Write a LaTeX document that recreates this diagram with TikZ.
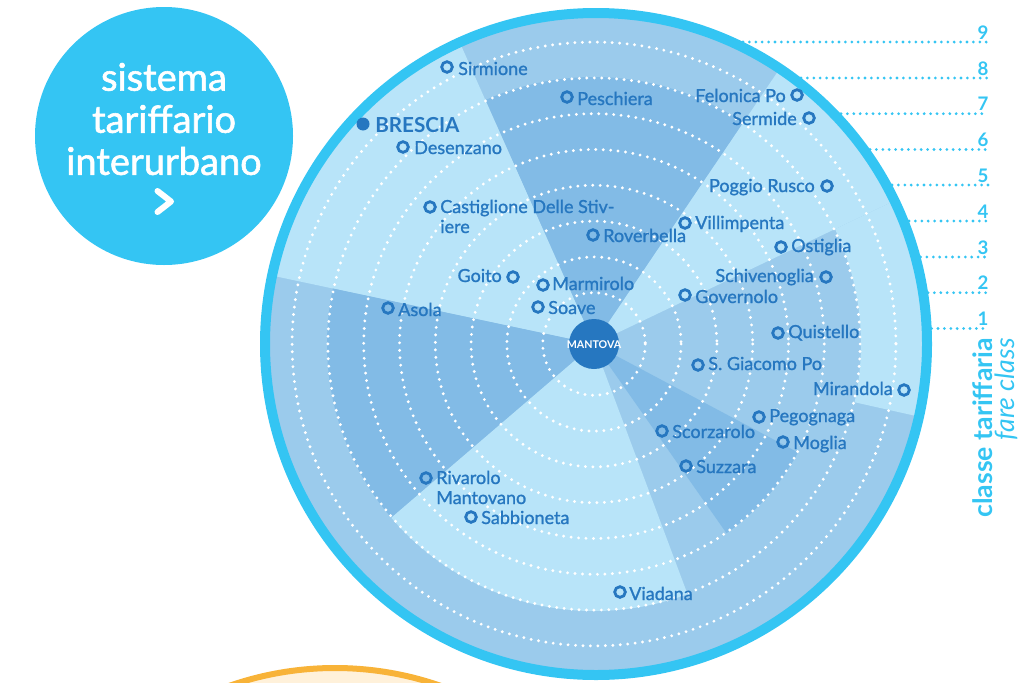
\documentclass[tikz,border=0pt]{standalone}
\usepackage{fontspec}
\setmainfont{Lato}
\newfontfamily\cityfont{Lato}[FakeBold=1.2]
\newfontfamily\titlefont{Lato}[FakeBold=1.5]
\definecolor{lightb}{HTML}{B8E4F9}
\definecolor{medb}{HTML}{9BCBEC}
\definecolor{darkb}{HTML}{82BBE6}
\definecolor{cyanb}{HTML}{34C5F3}
\definecolor{textb}{HTML}{2677C0}
\definecolor{orangeb}{HTML}{F8B338}
\definecolor{creamb}{HTML}{FFF1DA}
\tikzset{
  mk/.style={circle,draw=textb,line width=2.1pt,minimum size=8pt,inner sep=0pt},
  cityR/.style={anchor=base west,inner sep=0pt,text=textb,font=\cityfont\fontsize{13.5}{15}\selectfont},
  cityL/.style={anchor=base east,inner sep=0pt,text=textb,font=\cityfont\fontsize{13.5}{15}\selectfont},
  ring/.style={draw=white,line width=2.4pt,line cap=round,dash pattern=on 0pt off 5.6pt},
  legline/.style={draw=cyanb,line width=2.3pt,line cap=round,dash pattern=on 0pt off 4.8pt},
  num/.style={anchor=south,inner sep=0pt,text=cyanb,font=\bfseries\fontsize{14}{14}\selectfont},
  title/.style={text=white,inner sep=0pt,font=\titlefont\fontsize{28.5}{30}\selectfont}
}
\begin{document}
\begin{tikzpicture}[x=0.75pt,y=-0.75pt]
\useasboundingbox (0,0) rectangle (1034,682);
% bottom orange shape
\begin{scope}
\clip (0,0) rectangle (1034,682);
\fill[creamb] (335,988) circle (320);
\draw[orangeb,line width=4.5pt] (335,988) circle (320);
\end{scope}
% title circle
\fill[cyanb] (164,136) circle (129);
\node[title] (t1) at (164,77) {sistema};
\node[title] (t2) at (164,119) {tariffario};
\node[title] (t3) at (164,161) {interurbano};
\draw[white,line width=4.5pt,line cap=round,line join=round] (157.5,191) -- (171,201.5) -- (157.5,212);
% disk
\coordinate (C) at (594,344);
\coordinate (D) at (596,344);
\begin{scope}
\clip (D) circle (331);
\fill[medb] (D) circle (336);
\fill[darkb] (C) -- ++(-56:267) arc[start angle=-56,end angle=-114,radius=267] -- cycle;
\fill[lightb] (C) -- ++(-114:345) arc[start angle=-114,end angle=-168,radius=345] -- cycle;
\fill[darkb] (C) -- ++(-168:267) arc[start angle=-168,end angle=-220.6,radius=267] -- cycle;
\fill[lightb] (C) -- ++(-220.6:267) arc[start angle=-220.6,end angle=-290.5,radius=267] -- cycle;
\fill[darkb] (C) -- ++(55:231) arc[start angle=55,end angle=28,radius=231] -- cycle;
\fill[lightb] (C) -- ++(-25.5:345) arc[start angle=-25.5,end angle=-56,radius=345] -- cycle;
\path[fill=lightb] (C) ++(12.6:267) arc[start angle=12.6,end angle=-25.5,radius=267]
   -- ++(-25.5:80) arc[start angle=-25.5,end angle=12.6,radius=347] -- cycle;
\foreach \k in {2,...,9} {
  \draw[ring] (C) circle ({15.5+35.8*(\k-1)});
}
\end{scope}
\draw[cyanb,line width=7.5pt] (D) circle (331);
% Mantova
\fill[textb] (C) circle (25);
\node[text=white,font=\bfseries\fontsize{8}{8}\selectfont,inner sep=0pt] (mantova) at (594,345) {MANTOVA};
% legend lines
\foreach \y/\xs/\n in {42/743/9,78/801/8,113.7/841/7,149.5/870/6,185/892/5,221/909/4,257/920.5/3,292.7/928/2,328.5/931.6/1} {
  \coordinate (ls\n) at (\xs,\y);
  \coordinate (le\n) at (988,\y);
  \draw[legline] (ls\n) -- (le\n);
  \node[num] (n\n) at (983,\y-2.5) {\n};
}
\node[rotate=90,anchor=base east,inner sep=0pt,text=cyanb,font=\bfseries\fontsize{20}{20}\selectfont] (ct) at (992,338) {classe tariffaria};
\node[rotate=90,anchor=base east,inner sep=0pt,text=cyanb,font=\itshape\fontsize{20}{20}\selectfont] (fc) at (1014,338) {fare class};
% cities
\node[mk] (sirm) at (447,67) {};
\node[cityR] at (458,75) {Sirmione};
\node[mk] (pesc) at (567,97) {};
\node[cityR] at (577,105) {Peschiera};
\fill[textb] (363,124) circle (6.5) coordinate (bres);
\node[anchor=base west,inner sep=0pt,text=textb,font=\bfseries\fontsize{15.5}{16}\selectfont] at (375,132) {BRESCIA};
\node[mk] (dese) at (403,147) {};
\node[cityR] at (414,154) {Desenzano};
\node[mk] (cast) at (430,207) {};
\node[cityR] (castA) at (440,213) {Castiglione Delle Stiv-};
\node[cityR] (castB) at (440,233) {iere};
\node[mk] (rove) at (593,235) {};
\node[cityR] at (603,242) {Roverbella};
\node[mk] (goit) at (513,277) {};
\node[cityL] at (502,282) {Goito};
\node[mk] (marm) at (543,285) {};
\node[cityR] at (552,290) {Marmirolo};
\node[mk] (soav) at (538,307) {};
\node[cityR] at (548,314) {Soave};
\node[mk] (asol) at (388,308) {};
\node[cityR] at (398,316) {Asola};
\node[mk] (felo) at (797,95) {};
\node[cityL] at (786,102) {Felonica Po};
\node[mk] (serm) at (809,118) {};
\node[cityL] at (797,125) {Sermide};
\node[mk] (pogg) at (827,186) {};
\node[cityL] at (815,192) {Poggio Rusco};
\node[mk] (vill) at (685,223) {};
\node[cityR] at (695,229) {Villimpenta};
\node[mk] (osti) at (781,247) {};
\node[cityR] at (791,252) {Ostiglia};
\node[mk] (schi) at (826,277) {};
\node[cityL] at (814,282) {Schivenoglia};
\node[mk] (gove) at (685,295) {};
\node[cityR] at (695,303) {Governolo};
\node[mk] (quis) at (778,333) {};
\node[cityR] at (788,338) {Quistello};
\node[mk] (sgia) at (698,365) {};
\node[cityR] at (708,370) {S. Giacomo Po};
\node[mk] (mira) at (904,390) {};
\node[cityL] at (893,395) {Mirandola};
\node[mk] (pego) at (759,417) {};
\node[cityR] at (769,422) {Pegognaga};
\node[mk] (scor) at (662,431) {};
\node[cityR] at (672,438) {Scorzarolo};
\node[mk] (mogl) at (783,442) {};
\node[cityR] at (793,449) {Moglia};
\node[mk] (suzz) at (686,466) {};
\node[cityR] at (696,473) {Suzzara};
\node[mk] (viad) at (620,592) {};
\node[cityR] at (629,600) {Viadana};
\node[mk] (riva) at (426,478) {};
\node[cityR] (rivA) at (436,484) {Rivarolo};
\node[cityR] (rivB) at (436,504) {Mantovano};
\node[mk] (sabb) at (471,517) {};
\node[cityR] at (481,524) {Sabbioneta};
\end{tikzpicture}
\end{document}
